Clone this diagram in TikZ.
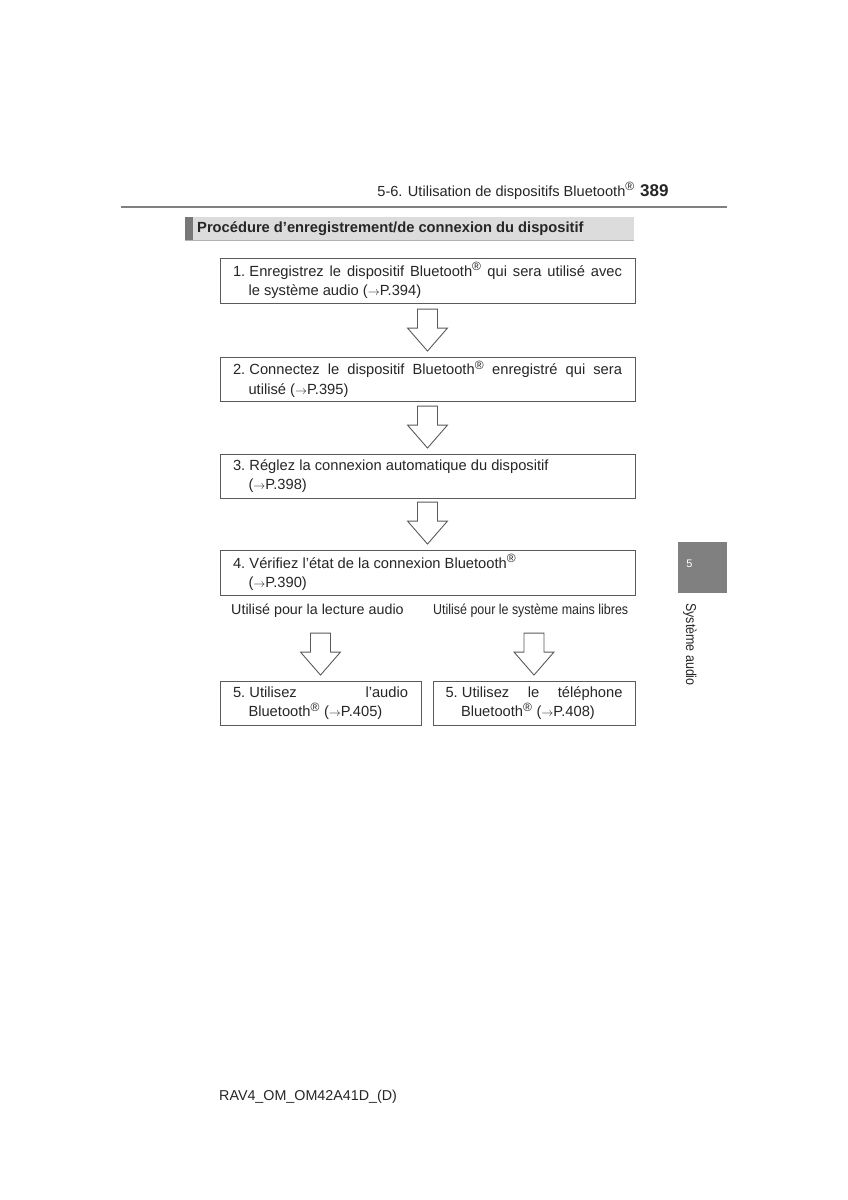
\documentclass[tikz,border=0pt]{standalone}
\usepackage{fontspec}
\setmainfont{Liberation Sans}
\newfontfamily\narrowfont[FakeStretch=0.87]{Liberation Sans}
\usetikzlibrary{calc}
\definecolor{txt}{HTML}{262626}
\definecolor{boxline}{HTML}{5A5A5A}
\definecolor{headfill}{HTML}{DCDCDC}
\definecolor{stripe}{HTML}{787878}
\definecolor{tabfill}{HTML}{808080}
\newcommand\rarr{{\fontsize{12}{12}\selectfont$\rightarrow$}}
\newcommand\reg{\textsuperscript{\fontsize{12}{12}\selectfont ®}}
\newcommand\num[1]{#1.\hspace{4.2pt}}
\newcommand\steptext[2]{\parbox{#1}{\fontsize{14.7}{19.5}\selectfont\hyphenpenalty=10000\exhyphenpenalty=10000\tolerance=10000\hangindent=15.5pt\hangafter=1 #2}}
\tikzset{
  stepbox/.style={draw=boxline, line width=0.9pt, inner sep=0pt, text=txt},
  hollow/.style={draw=boxline, line width=0.9pt, fill=white, line join=miter},
  plain/.style={inner sep=0pt, text=txt, font=\fontsize{14.3}{17}\selectfont},
}
\newcommand\flowarrow[1]{%
  \draw[hollow] ($(#1.north)+(0,-5.5)$) -- ++(20,-23) -- ++(-10,0) -- ++(0,-19) -- ++(-20,0) -- ++(0,19) -- ++(-10,0) -- cycle;}
\begin{document}
\begin{tikzpicture}[x=1pt,y=-1pt]
\useasboundingbox[fill=white] (0,0) rectangle (848,1200);

% page header
\draw[tabfill, line width=2pt] (121,207) -- (727,207);
\node[plain, anchor=base east, font=\fontsize{14.6}{17}\selectfont] (hdr) at (635,196) {5-6. Utilisation de dispositifs Bluetooth\reg};
\node[plain, anchor=base west, font=\bfseries\fontsize{17}{19}\selectfont] (pnum) at (640,196) {389};

% section heading bar
\fill[headfill] (185,217) rectangle (634,240);
\draw[black!30, line width=0.8pt] (185,240) -- (634,240);
\fill[stripe] (185,217) rectangle (192.5,240);
\node[plain, anchor=west, font=\bfseries\fontsize{14.7}{17}\selectfont] (title) at (197,229) {Procédure d’enregistrement/de connexion du dispositif};

% steps
\node[stepbox, minimum width=415, minimum height=45] (b1) at (427.5,280.5)
  {\steptext{389pt}{\num{1}Enregistrez le dispositif Bluetooth\reg{} qui sera utilisé avec\linebreak le système audio (\rarr P.394)}};
\node[stepbox, minimum width=415, minimum height=44] (b2) at (427.5,379)
  {\steptext{389pt}{\num{2}Connectez le dispositif Bluetooth\reg{} enregistré qui sera\linebreak utilisé (\rarr P.395)}};
\node[stepbox, minimum width=415, minimum height=44] (b3) at (427.5,476)
  {\steptext{389pt}{\num{3}Réglez la connexion automatique du dispositif\\(\rarr P.398)}};
\node[stepbox, minimum width=415, minimum height=45] (b4) at (427.5,572.5)
  {\steptext{389pt}{\num{4}Vérifiez l’état de la connexion Bluetooth\reg\\(\rarr P.390)}};

\node[plain, anchor=west] (la) at (231,611) {Utilisé pour la lecture audio};
\node[plain, anchor=west, font=\narrowfont\fontsize{14.3}{17}\selectfont] (lb) at (433,611) {Utilisé pour le système mains libres};

\node[stepbox, minimum width=201, minimum height=44] (b5a) at (320.5,703)
  {\steptext{175pt}{\num{5}Utilisez l’audio\linebreak Bluetooth\reg{} (\rarr P.405)}};
\node[stepbox, minimum width=202, minimum height=44] (b5b) at (534,703)
  {\steptext{177pt}{\num{5}Utilisez le téléphone\linebreak Bluetooth\reg{} (\rarr P.408)}};

\flowarrow{b2}
\flowarrow{b3}
\flowarrow{b4}
\flowarrow{b5a}
\flowarrow{b5b}

% side tab
\fill[tabfill] (678,542) rectangle (727,593);
\node[inner sep=0pt, text=white, font=\fontsize{11}{13}\selectfont] (tabnum) at (689.5,563.5) {5};
\node[plain, rotate=-90, font=\narrowfont\fontsize{14.3}{15}\selectfont] (tabtxt) at (690,644.5) {Système audio};

% footer
\node[plain, anchor=west] (foot) at (219,1097) {RAV4\_OM\_OM42A41D\_(D)};
\end{tikzpicture}
\end{document}
